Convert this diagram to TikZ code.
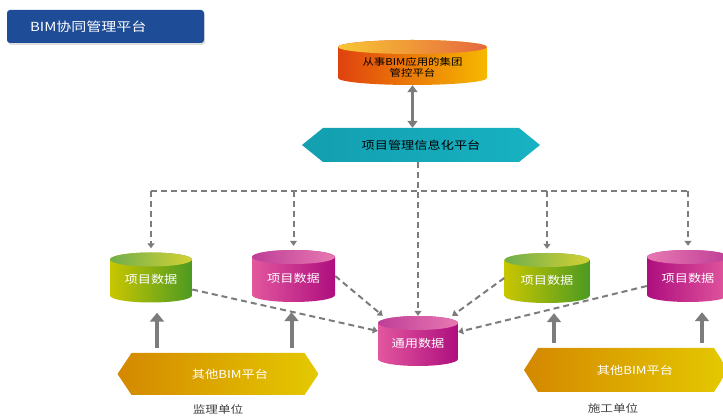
\documentclass[tikz,border=0pt]{standalone}
\usepackage{fontspec}
\setmainfont{Noto Sans CJK SC}[FakeStretch=1.2]
\usetikzlibrary{arrows.meta,positioning,calc,shadows}
\definecolor{BimBlue}{HTML}{1E4C96}
\definecolor{BimTeal}{HTML}{139FB0}
\definecolor{BimTealR}{HTML}{17B2C2}
\definecolor{BimGray}{HTML}{7C7C7C}
\definecolor{OrL}{HTML}{E0420F}
\definecolor{OrR}{HTML}{F6B800}
\definecolor{GrL}{HTML}{C9C600}
\definecolor{GrR}{HTML}{4C9A22}
\definecolor{PkL}{HTML}{E2579E}
\definecolor{PkR}{HTML}{AE0E7E}
\definecolor{GdL}{HTML}{D48800}
\definecolor{GdR}{HTML}{E4C900}

\begin{document}
\begin{tikzpicture}[x=1pt,y=1pt,font=\fontsize{11}{13}\selectfont,
  db/.style n args={3}{minimum width=#1pt,minimum height=50pt,inner sep=0pt,text=white,text height=14pt,text depth=1pt,
    path picture={
      \shade[left color=#2,right color=#3] ([yshift=-7pt]path picture bounding box.north west)
        -- ([yshift=7pt]path picture bounding box.south west) arc[start angle=180,end angle=360,x radius=#1/2,y radius=7]
        -- ([yshift=-7pt]path picture bounding box.north east) arc[start angle=0,end angle=180,x radius=#1/2,y radius=7] -- cycle;
      \shade[left color=#3!80!white,right color=#2!80!white] ([yshift=-7pt]path picture bounding box.north) ellipse[x radius=#1/2,y radius=7];}},
  hexbox/.style n args={3}{inner sep=0pt,
    path picture={
      \shade[left color=#2,right color=#3] (path picture bounding box.west)
        -- ([xshift=#1]path picture bounding box.north west) -- ([xshift=-#1]path picture bounding box.north east)
        -- (path picture bounding box.east)
        -- ([xshift=-#1]path picture bounding box.south east) -- ([xshift=#1]path picture bounding box.south west) -- cycle;}},
  dline/.style={draw=BimGray,line width=2pt,dash pattern=on 6pt off 4pt,>={Triangle[length=5pt,width=7pt]}},
  garrow/.style={draw=BimGray,line width=4pt,>={Triangle[length=9pt,width=14pt]}},
  unit/.style={text=black!75,font=\fontsize{10.5}{12}\selectfont}]
  \useasboundingbox (0,0) rectangle (723,-419);

  \node[fill=BimBlue,rounded corners=3pt,text=white,minimum height=33pt,text width=151pt,inner xsep=23pt,align=left,
    font=\fontsize{12.5}{14}\selectfont,
    drop shadow={opacity=0.25,shadow xshift=1pt,shadow yshift=-2pt}] (title) at (105.5,-26.5) {BIM协同管理平台};

  \node[db={149}{OrL}{OrR},minimum height=45pt,text=black,text height=0pt,text depth=0pt,font=\fontsize{9.5}{11}\selectfont] (group) at (412.5,-62.5)
    {\raisebox{-7.5pt}[0pt][0pt]{\parbox{140pt}{\centering 从事BIM应用的集团\\管控平台}}};
  \node[hexbox={21pt}{BimTeal}{BimTealR},minimum width=238pt,minimum height=34pt] (mgmt) at (421,-145) {项目管理信息化平台};

  \node[db={82}{GrL}{GrR}] (g1) at (151,-277.5) {项目数据};
  \node[db={83}{PkL}{PkR},minimum height=52pt] (p1) at (293.5,-276) {项目数据};
  \node[db={85}{GrL}{GrR}] (g2) at (547,-278) {项目数据};
  \node[db={82}{PkR}{PkL},minimum height=52pt] (p2) at (688,-276) {项目数据};
  \node[db={80}{PkL}{PkR}] (cd) at (418,-341) {通用数据};

  \node[hexbox={14pt}{GdL}{GdR},minimum width=201pt,minimum height=42pt,text=white] (lh) at (218,-374) {\hspace*{24pt}其他BIM平台};
  \node[hexbox={14pt}{GdL}{GdR},minimum width=204pt,minimum height=44pt,text=white] (rh) at (626,-370) {\hspace*{18pt}其他BIM平台};
  \node[unit,below=6pt of lh] (jl) {监理单位};
  \node[unit,below=8pt of rh,xshift=-13pt] (sg) {施工单位};

  \coordinate (bus) at (418,-191);
  \draw[draw=BimGray,line width=3pt,{Triangle[length=7pt,width=10pt]}-{Triangle[length=7pt,width=10pt]}] (group.south) -- (group.south |- mgmt.north);
  \draw[dline,->] (cd |- mgmt.south) -- (cd.north);
  \draw[dline] (g1 |- bus) -- (p2 |- bus);
  \foreach \n in {g1,p1,g2,p2}{\draw[dline,->,shorten >=4pt] (\n |- bus) -- (\n.north);}
  \draw[dline,->] ([yshift=-12pt]g1.east) -- ([yshift=10pt]cd.west);
  \draw[dline,->] (p1.east) -- ([xshift=5pt]cd.north west);
  \draw[dline,->] (g2.west) -- ([xshift=-6pt]cd.north east);
  \draw[dline,->] ([yshift=-10pt]p2.west) -- ([yshift=9pt]cd.east);
  \foreach \n/\h/\d in {g1/lh/6,p1/lh/-2,g2/rh/7,p2/rh/14}{
    \draw[garrow,->,shorten <=5pt,shorten >=10pt] ($(\n.south |- \h.north)+(\d,0)$) -- ($(\n.south)+(\d,0)$);}
\end{tikzpicture}
\end{document}
